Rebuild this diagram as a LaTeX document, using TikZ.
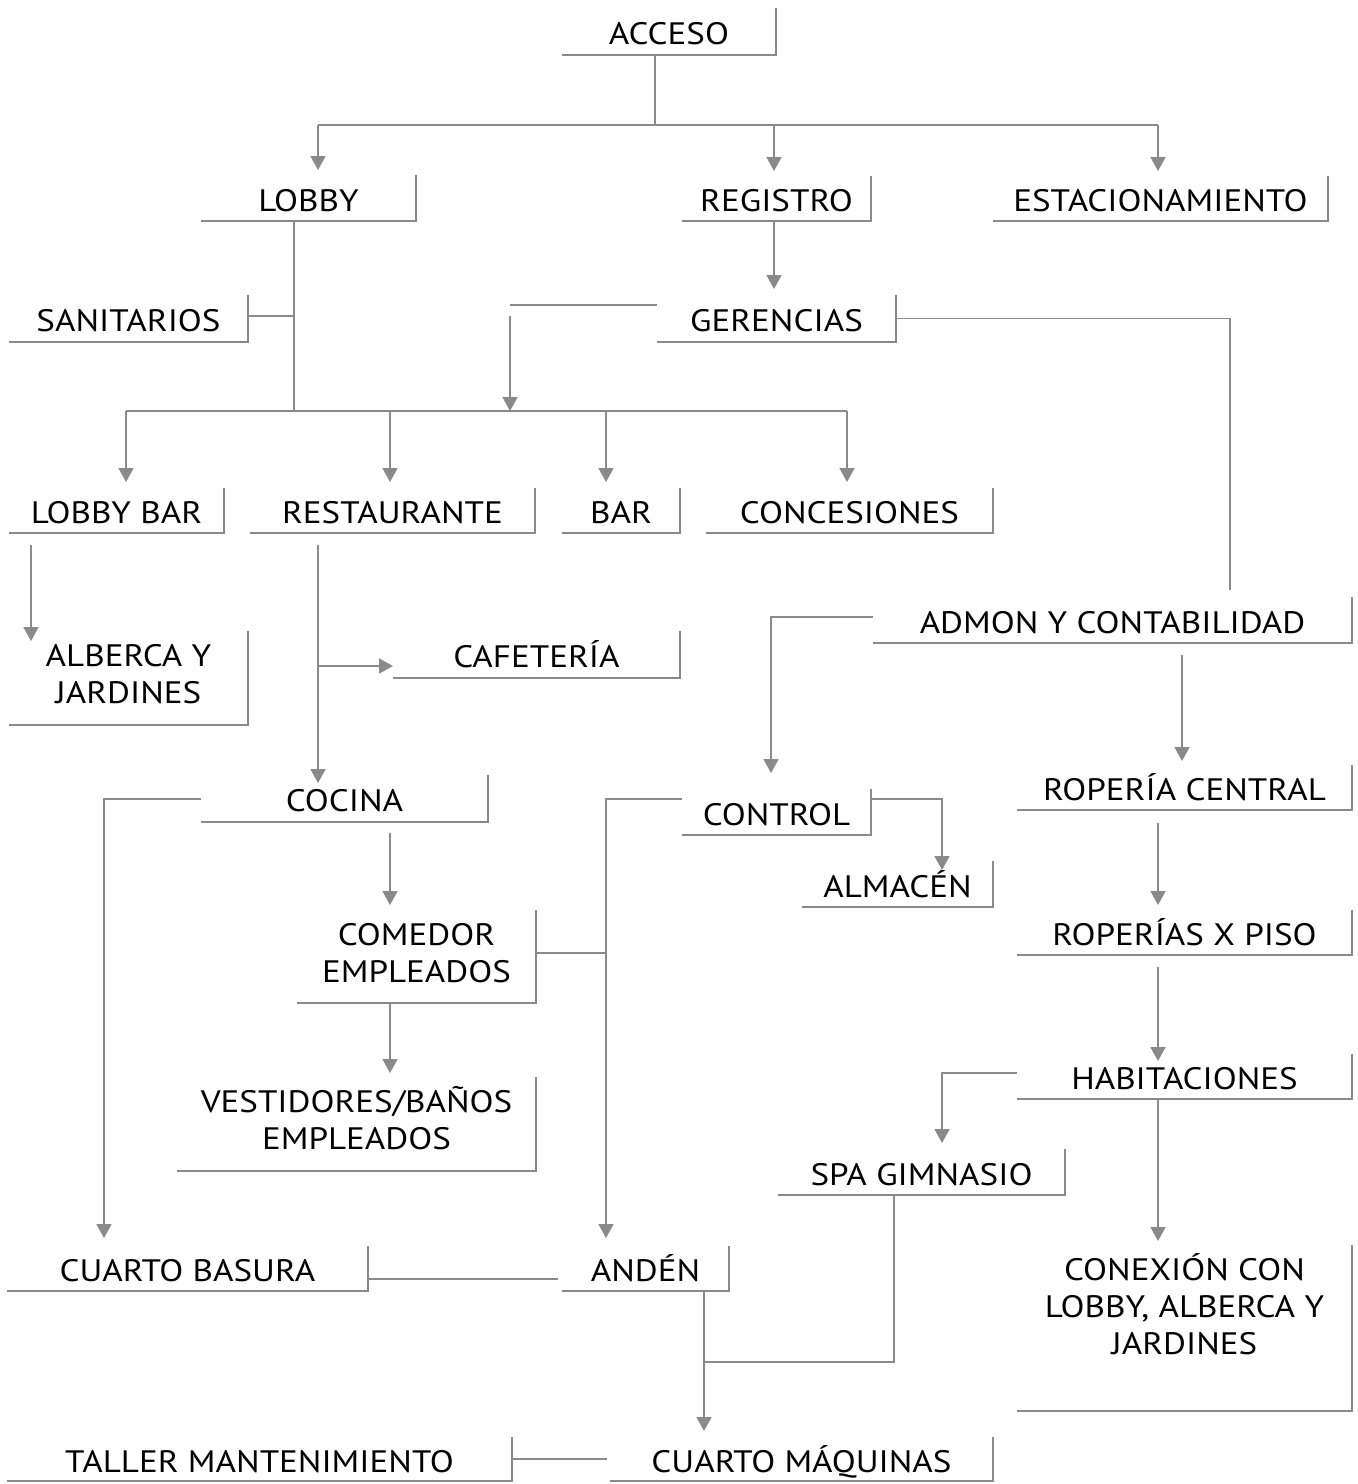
\documentclass[tikz,border=0pt]{standalone}
\usepackage{fontspec}
\setmainfont[FakeStretch=1.13]{PT Sans}
\usetikzlibrary{arrows.meta}
\definecolor{lg}{RGB}{138,138,138}
\newcommand{\mtxt}[3]{\parbox[c][#2][t]{#1}{\centering\rule{0pt}{35pt}#3}}
\begin{document}
\begin{tikzpicture}[x=1pt,y=-1pt,
  lbl/.style={font=\fontsize{31pt}{37pt}\selectfont, text=black},
  frame/.style={draw=lg, line width=2.4pt},
  brk/.style={inner sep=0pt, outer sep=0pt, lbl,
    append after command={\pgfextra{\draw[frame] (\tikzlastnode.south west) -- (\tikzlastnode.south east) -- (\tikzlastnode.north east);}}},
  lbox/.style 2 args={brk, minimum width=#1, minimum height=#2, text height=26pt, text depth=0pt},
  mbox/.style={brk},
  conn/.style={draw=lg, line width=1.8pt},
  arr/.style={conn, -{Triangle[width=15pt,length=14pt]}}
]
\useasboundingbox (0,0) rectangle (1358,1484);

% nodes
\node[lbox={214pt}{47pt}] (acceso) at (669,31.5) {ACCESO};
\node[lbox={215pt}{46pt}] (lobby) at (308.5,198) {LOBBY};
\node[lbox={189pt}{45pt}] (registro) at (776.5,198.5) {REGISTRO};
\node[lbox={335pt}{45pt}] (estac) at (1160.5,198.5) {ESTACIONAMIENTO};
\node[lbox={239pt}{47pt}] (gerencias) at (776.5,318.5) {GERENCIAS};
\node[lbox={239pt}{47pt}] (sanitarios) at (128.5,318.5) {SANITARIOS};
\node[lbox={215pt}{45pt}] (lobbybar) at (116.5,510.5) {LOBBY BAR};
\node[lbox={285pt}{45pt}] (restaurante) at (392.5,510.5) {RESTAURANTE};
\node[lbox={118pt}{45pt}] (bar) at (621,510.5) {BAR};
\node[lbox={287pt}{45pt}] (concesiones) at (849.5,510.5) {CONCESIONES};
\node[mbox] (alberca) at (128.5,678) {\mtxt{239pt}{94pt}{ALBERCA Y\\JARDINES}};
\node[lbox={287pt}{47pt}] (cafeteria) at (536.5,654.5) {CAFETERÍA};
\node[lbox={479pt}{46pt}] (admon) at (1112.5,620) {ADMON Y CONTABILIDAD};
\node[lbox={287pt}{47pt}] (cocina) at (344.5,798.5) {COCINA};
\node[lbox={189pt}{46pt}] (control) at (776.5,812) {CONTROL};
\node[lbox={191pt}{46pt}] (almacen) at (897.5,884) {ALMACÉN};
\node[lbox={335pt}{45pt}] (ropcentral) at (1184.5,787.5) {ROPERÍA CENTRAL};
\node[mbox] (comedor) at (416.5,956.5) {\mtxt{239pt}{93pt}{COMEDOR\\EMPLEADOS}};
\node[lbox={335pt}{45pt}] (roppiso) at (1184.5,932.5) {ROPERÍAS X PISO};
\node[lbox={335pt}{45pt}] (habit) at (1184.5,1076.5) {HABITACIONES};
\node[mbox] (vest) at (356.5,1124) {\mtxt{359pt}{94pt}{VESTIDORES/BAÑOS\\EMPLEADOS}};
\node[lbox={287pt}{46pt}] (spa) at (921.5,1172) {SPA GIMNASIO};
\node[lbox={361pt}{45pt}] (basura) at (187.5,1268.5) {CUARTO BASURA};
\node[lbox={167pt}{45pt}] (anden) at (645.5,1268.5) {ANDÉN};
\node[mbox] (conexion) at (1184.5,1328) {\mtxt{335pt}{166pt}{CONEXIÓN CON\\LOBBY, ALBERCA Y\\JARDINES}};
\node[lbox={383pt}{44pt}] (maquinas) at (801.5,1459) {CUARTO MÁQUINAS};
\node[lbox={505pt}{44pt}] (taller) at (259.5,1459) {TALLER MANTENIMIENTO};

% connectors
\coordinate (s1) at (655,125);
\draw[conn] (655,0 |- acceso.south) -- (s1);
\draw[conn] (318,125) -- (1158,125);
\draw[arr, shorten >=5pt] (318,125) -- (318,0 |- lobby.north);
\draw[arr, shorten >=5pt] (774,125) -- (774,0 |- registro.north);
\draw[arr, shorten >=5pt] (1158,125) -- (1158,0 |- estac.north);
\draw[arr, shorten >=6pt] (774,0 |- registro.south) -- (774,0 |- gerencias.north);
\draw[conn, shorten >=7pt] (gerencias.east) -- (1230,0 |- gerencias.east) -- (1230,0 |- admon.north);
\draw[conn] (gerencias.west |- 0,305) -- (510,305);
\draw[arr] (510,316) -- (510,411);
\draw[conn] (294,0 |- lobby.south) -- (294,411);
\draw[conn] (sanitarios.east |- 0,316) -- (294,316);
\draw[conn] (126,411) -- (847,411);
\foreach \x/\n in {126/lobbybar,390/restaurante,606/bar,847/concesiones}
  \draw[arr, shorten >=6pt] (\x,411) -- (\x,0 |- \n.north);
\draw[arr, shorten <=12pt] (31,0 |- lobbybar.south) -- (31,641);
\draw[arr, shorten <=12pt] (318,0 |- restaurante.south) -- (318,783);
\draw[arr] (318,666) -- (cafeteria.west |- 0,666);
\draw[arr, shorten >=8pt] (cocina.west |- 0,799) -- (104,799) -- (104,0 |- basura.north);
\draw[arr, shorten <=11pt, shorten >=5pt] (390,0 |- cocina.south) -- (390,0 |- comedor.north);
\draw[arr, shorten >=4pt] (390,0 |- comedor.south) -- (390,0 |- vest.north);
\draw[conn] (comedor.east |- 0,953) -- (606,953);
\draw[arr, shorten >=8pt] (control.west |- 0,799) -- (606,799) -- (606,0 |- anden.north);
\draw[arr] (admon.west |- 0,617) -- (771,617) -- (771,773);
\draw[arr] (control.east |- 0,799) -- (942,799) -- (942,870);
\draw[arr, shorten <=12pt, shorten >=4pt] (1182,0 |- admon.south) -- (1182,0 |- ropcentral.north);
\draw[arr, shorten <=13pt, shorten >=5pt] (1158,0 |- ropcentral.south) -- (1158,0 |- roppiso.north);
\draw[arr, shorten <=12pt] (1158,0 |- roppiso.south) -- (1158,1061);
\draw[arr] (habit.west |- 0,1073) -- (942,1073) -- (942,1143);
\draw[arr, shorten >=4pt] (1158,0 |- habit.south) -- (1158,0 |- conexion.north);
\draw[conn] (894,0 |- spa.south) -- (894,1362) -- (704,1362);
\draw[arr, shorten >=6pt] (704,0 |- anden.south) -- (704,0 |- maquinas.north);
\draw[conn] (basura.east |- 0,1279) -- (558,1279);
\draw[conn] (taller.east |- 0,1459) -- (607,1459);
\end{tikzpicture}
\end{document}
